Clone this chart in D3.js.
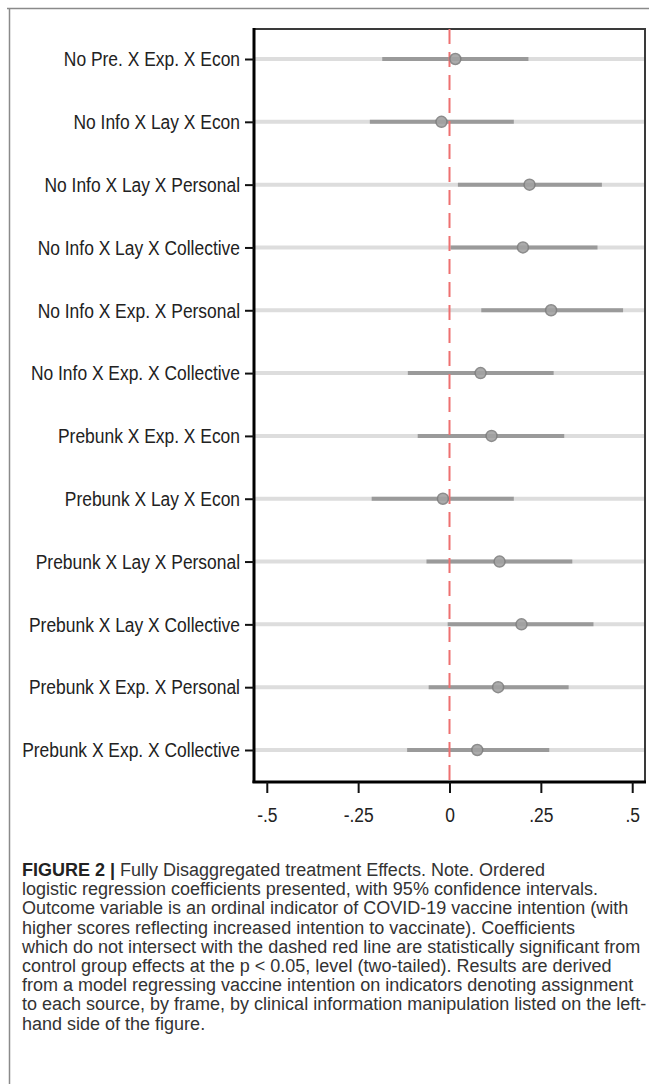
<!DOCTYPE html>
<html>
<meta charset="utf-8">
<title>Fully Disaggregated treatment Effects</title>
<style>
	body {
		margin: 0;
		background-color: #ffffff;
	}

	.ylab text, .xlab text {
		font: 21px "Liberation Sans", Arial, sans-serif;
		fill: #222;
	}

	.caption {
		font: 18px "Liberation Sans", Arial, sans-serif;
		fill: #333;
	}
</style>

<body>
	<div id="chart"></div>
</body>

<script src="https://cdn.jsdelivr.net/npm/d3@7"></script>
<script>

	// Row labels, top to bottom
	var labels = [
		"No Pre. X Exp. X Econ",
		"No Info X Lay X Econ",
		"No Info X Lay X Personal",
		"No Info X Lay X Collective",
		"No Info X Exp. X Personal",
		"No Info X Exp. X Collective",
		"Prebunk X Exp. X Econ",
		"Prebunk X Lay X Econ",
		"Prebunk X Lay X Personal",
		"Prebunk X Lay X Collective",
		"Prebunk X Exp. X Personal",
		"Prebunk X Exp. X Collective"
	];

	// Coefficients and 95% CI bounds
	var coef  = [0.016, -0.022, 0.219, 0.201, 0.278, 0.085, 0.115, -0.018, 0.137, 0.197, 0.133, 0.076];
	var lower = [-0.184, -0.218, 0.023, 0.003, 0.087, -0.114, -0.087, -0.213, -0.063, -0.005, -0.057, -0.116];
	var upper = [0.216, 0.176, 0.417, 0.405, 0.475, 0.285, 0.314, 0.176, 0.336, 0.394, 0.326, 0.273];

	var xTicks = [-0.5, -0.25, 0, 0.25, 0.5];
	var xTickLabels = ["-.5", "-.25", "0", ".25", ".5"];

	var caption = [
		"Fully Disaggregated treatment Effects. Note. Ordered",
		"logistic regression coefficients presented, with 95% confidence intervals.",
		"Outcome variable is an ordinal indicator of COVID-19 vaccine intention (with",
		"higher scores reflecting increased intention to vaccinate). Coefficients",
		"which do not intersect with the dashed red line are statistically significant from",
		"control group effects at the p < 0.05, level (two-tailed). Results are derived",
		"from a model regressing vaccine intention on indicators denoting assignment",
		"to each source, by frame, by clinical information manipulation listed on the left-",
		"hand side of the figure."
	];

	var width = 649, height = 1084;
	var plot = { left: 254, right: 645, top: 29, bottom: 782 };
	var squeeze = 0.83;   // the labels in the figure are a condensed face

	var svg = d3.select("#chart").append("svg")
		.attr("width", width)
		.attr("height", height);

	// Outer figure frame (top + left)
	svg.append("path")
		.attr("d", "M7,8.5H649M9.5,8V1084")
		.attr("fill", "none")
		.attr("stroke", "#8a8a8a")
		.attr("stroke-width", 1.5);

	var xScale = d3.scaleLinear().domain([-0.535, 0.535]).range([plot.left, plot.right]);
	var yScale = d3.scalePoint().domain(labels).range([59, 750]);

	var rows = labels.map(function (d, i) {
		return { label: d, coef: coef[i], lo: lower[i], hi: upper[i] };
	});

	// Light gray row lines
	svg.append("g").selectAll("line")
		.data(rows).enter().append("line")
		.attr("x1", plot.left)
		.attr("x2", plot.right)
		.attr("y1", function (d) { return yScale(d.label); })
		.attr("y2", function (d) { return yScale(d.label); })
		.attr("stroke", "#dddddd")
		.attr("stroke-width", 4);

	// Plot frame top and right
	svg.append("path")
		.attr("d", "M" + plot.left + "," + plot.top + "H" + plot.right + "V" + plot.bottom)
		.attr("fill", "none")
		.attr("stroke", "#3a3a3a")
		.attr("stroke-width", 2);

	// Confidence intervals
	svg.append("g").selectAll("line")
		.data(rows).enter().append("line")
		.attr("x1", function (d) { return xScale(d.lo); })
		.attr("x2", function (d) { return xScale(d.hi); })
		.attr("y1", function (d) { return yScale(d.label); })
		.attr("y2", function (d) { return yScale(d.label); })
		.attr("stroke", "#9a9a9a")
		.attr("stroke-width", 4);

	// Zero reference line
	svg.append("line")
		.attr("x1", xScale(0))
		.attr("x2", xScale(0))
		.attr("y1", plot.top)
		.attr("y2", plot.bottom)
		.attr("stroke", "#ee7070")
		.attr("stroke-width", 2)
		.attr("stroke-dasharray", "15,8");

	// Point estimates
	svg.append("g").selectAll("circle")
		.data(rows).enter().append("circle")
		.attr("cx", function (d) { return xScale(d.coef); })
		.attr("cy", function (d) { return yScale(d.label); })
		.attr("r", 5.5)
		.attr("fill", "#a2a2a2")
		.attr("stroke", "#808080")
		.attr("stroke-width", 1.5)
		.attr("opacity", 0.9);

	// Axes
	var yAxis = d3.axisLeft(yScale).tickSize(9).tickPadding(4);
	var gy = svg.append("g")
		.attr("class", "ylab")
		.attr("transform", "translate(" + plot.left + ",0)")
		.call(yAxis);
	gy.select(".domain").attr("d", "M0," + (plot.top - 1) + "V" + (plot.bottom + 1))
		.attr("stroke", "#000").attr("stroke-width", 3);
	gy.selectAll(".tick line").attr("stroke", "#111").attr("stroke-width", 2);
	gy.selectAll(".tick text")
		.attr("x", 0)
		.attr("transform", "translate(-14,0) scale(" + squeeze + ",1)");

	var xAxis = d3.axisBottom(xScale)
		.tickValues(xTicks)
		.tickFormat(function (d, i) { return xTickLabels[i]; })
		.tickSize(11).tickPadding(14);
	var gx = svg.append("g")
		.attr("class", "xlab")
		.attr("transform", "translate(0," + plot.bottom + ")")
		.call(xAxis);
	gx.select(".domain").attr("d", "M" + (plot.left - 1.5) + ",0H" + (plot.right + 1))
		.attr("stroke", "#000").attr("stroke-width", 3);
	gx.selectAll(".tick line").attr("stroke", "#111").attr("stroke-width", 2);
	gx.selectAll(".tick text").attr("transform", "scale(" + squeeze + ",1)");

	// Caption
	var cap = svg.append("g").attr("class", "caption");
	caption.forEach(function (line, i) {
		var t = cap.append("text")
			.attr("x", 22)
			.attr("y", 876 + i * 19.2);
		if (i === 0) {
			t.append("tspan").attr("font-weight", "bold").attr("fill", "#222").text("FIGURE 2 | ");
		}
		t.append("tspan").text(line);
	});

</script>
</html>
